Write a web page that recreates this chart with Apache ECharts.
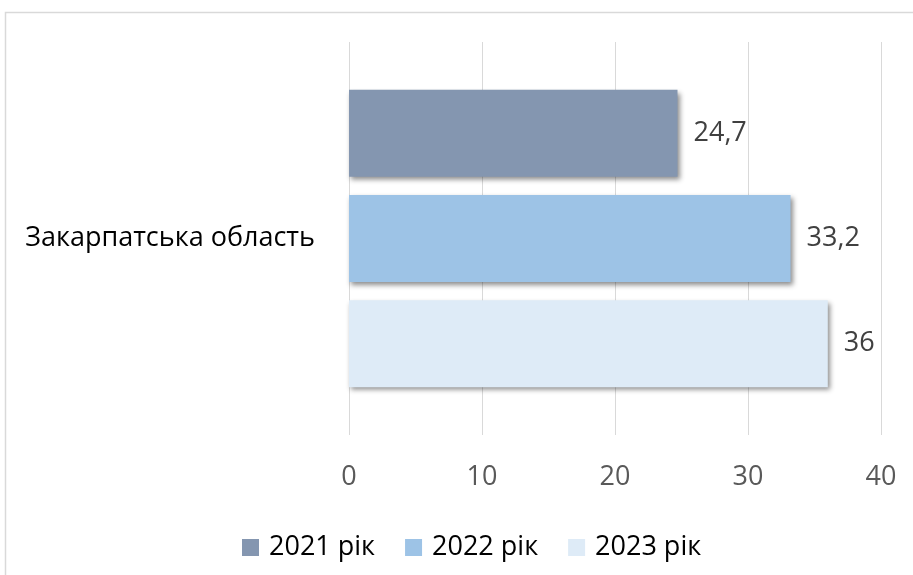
<!DOCTYPE html>
<html>
<head>
<meta charset="utf-8">
<script src="https://cdn.jsdelivr.net/npm/echarts@6/dist/echarts.min.js"></script>
<style>
  html, body { margin: 0; padding: 0; background: #fff; }
  #chart { width: 913px; height: 575px; }
</style>
</head>
<body>
<div id="chart"></div>
<script>
// Regions on the category axis
const categories = ['Закарпатська область'];

// Values per year
const years = ['2021 рік', '2022 рік', '2023 рік'];
const values2021 = [24.7];
const values2022 = [33.2];
const values2023 = [36];

// Value axis ticks
const axisMin = 0;
const axisMax = 40;
const axisStep = 10;

const colors = ['#8496B0', '#9DC3E6', '#DEEBF7'];
const FONT = 'Open Sans';
const FS = 27;

function barSeries(name, data, color) {
  return {
    name: name,
    type: 'bar',
    data: data,
    barWidth: 87,
    barGap: '21%',
    itemStyle: {
      color: color,
      shadowColor: 'rgba(0,0,0,0.45)',
      shadowBlur: 5,
      shadowOffsetX: 2,
      shadowOffsetY: 3
    },
    label: {
      show: true,
      position: 'right',
      distance: 16,
      fontFamily: FONT,
      fontSize: FS,
      color: '#404040',
      formatter: p => String(p.value).replace('.', ',')
    }
  };
}

const chart = echarts.init(document.getElementById('chart'), null, { renderer: 'canvas' });
chart.setOption({
  animation: false,
  backgroundColor: '#fff',
  textStyle: { fontFamily: FONT },
  graphic: [{
    type: 'rect',
    shape: { x: 5.5, y: 12.5, width: 1000, height: 1000 },
    style: { fill: 'none', stroke: '#d9d9d9', lineWidth: 1.5 },
    silent: true
  }],
  grid: { left: 349, right: 32, top: 42, bottom: 140 },
  xAxis: {
    type: 'value',
    min: axisMin,
    max: axisMax,
    interval: axisStep,
    axisLine: { show: false },
    axisTick: { show: false },
    splitLine: { show: true, lineStyle: { color: '#d9d9d9', width: 1 } },
    axisLabel: { fontFamily: FONT, fontSize: FS, color: '#595959', margin: 29 }
  },
  yAxis: {
    type: 'category',
    data: categories,
    inverse: true,
    axisLine: { show: false },
    axisTick: { show: false },
    axisLabel: { fontFamily: FONT, fontSize: FS, color: '#000', margin: 34 }
  },
  legend: {
    data: years,
    left: 237,
    top: 529,
    itemWidth: 17,
    itemHeight: 17,
    itemGap: 30,
    icon: 'rect',
    textStyle: { fontFamily: FONT, fontSize: FS, color: '#000', padding: [0, 0, 0, 5] }
  },
  series: [
    barSeries(years[0], values2021, colors[0]),
    barSeries(years[1], values2022, colors[1]),
    barSeries(years[2], values2023, colors[2])
  ]
});
</script>
</body>
</html>
